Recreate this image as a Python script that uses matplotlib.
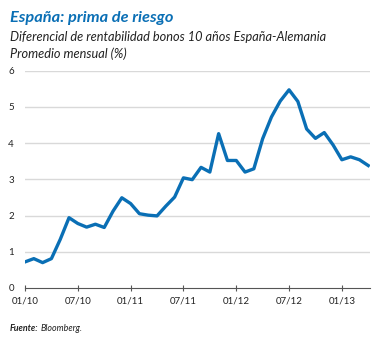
import numpy as np
import matplotlib
matplotlib.use('Agg')
import matplotlib.pyplot as plt

# monthly averages, Jan 2010 - Apr 2013
months = np.arange(40)
spread = [0.72, 0.81, 0.70, 0.81, 1.34, 1.94, 1.78, 1.68, 1.76, 1.67,
          2.12, 2.49, 2.33, 2.05, 2.01, 1.99, 2.26, 2.51, 3.04, 2.99,
          3.33, 3.20, 4.26, 3.52, 3.52, 3.20, 3.29, 4.12, 4.72, 5.16,
          5.47, 5.15, 4.39, 4.13, 4.29, 3.95, 3.54, 3.62, 3.54, 3.38]
tick_pos = [0, 6, 12, 18, 24, 30, 36]
tick_lab = ['01/10', '07/10', '01/11', '07/11', '01/12', '07/12', '01/13']

plt.rcParams['font.family'] = ['Lato', 'DejaVu Sans']
blue = '#0a6fb5'
dark = '#222222'

fig = plt.figure(figsize=(3.75, 3.38), dpi=100)
ax = fig.add_axes([0.0667, 0.148, 0.92, 0.643])

for v in range(1, 7):
    ax.axhline(v, color='#d9d9d9', lw=1.0, zorder=1)
ax.plot(months, spread, color=blue, lw=2.4, zorder=3)

ax.set_xlim(0, 39.2)
ax.set_ylim(0, 6)
ax.set_yticks(range(0, 7))
ax.set_xticks(tick_pos)
ax.set_xticklabels(tick_lab)
for s in ['top', 'right', 'left']:
    ax.spines[s].set_visible(False)
ax.spines['bottom'].set_color('#555555')
ax.spines['bottom'].set_linewidth(0.8)
ax.tick_params(axis='y', length=0, pad=8, labelsize=7, colors=dark)
ax.tick_params(axis='x', direction='inout', length=4, width=0.8, color='#555555',
               pad=4, labelsize=7, labelcolor=dark)

fig.text(0.027, 0.935, 'España: prima de riesgo', color=blue, fontsize=11.8,
         fontweight='bold', fontstyle='italic')
fig.text(0.027, 0.88, 'Diferencial de rentabilidad bonos 10 años España-Alemania',
         fontsize=9.2, fontstyle='italic', color=dark)
fig.text(0.027, 0.827, 'Promedio mensual (%)', fontsize=9.2, fontstyle='italic',
         color=dark)

t = fig.text(0.027, 0.022, 'Fuente:', fontsize=6.4, color=dark,
             fontstyle='italic', fontweight='bold')
fig.canvas.draw()
bb = t.get_window_extent().transformed(fig.transFigure.inverted())
fig.text(bb.x1 + 0.005, 0.022, 'Bloomberg.', fontsize=6.4, color=dark,
         fontstyle='italic')

fig.savefig('out.png', dpi=100)
